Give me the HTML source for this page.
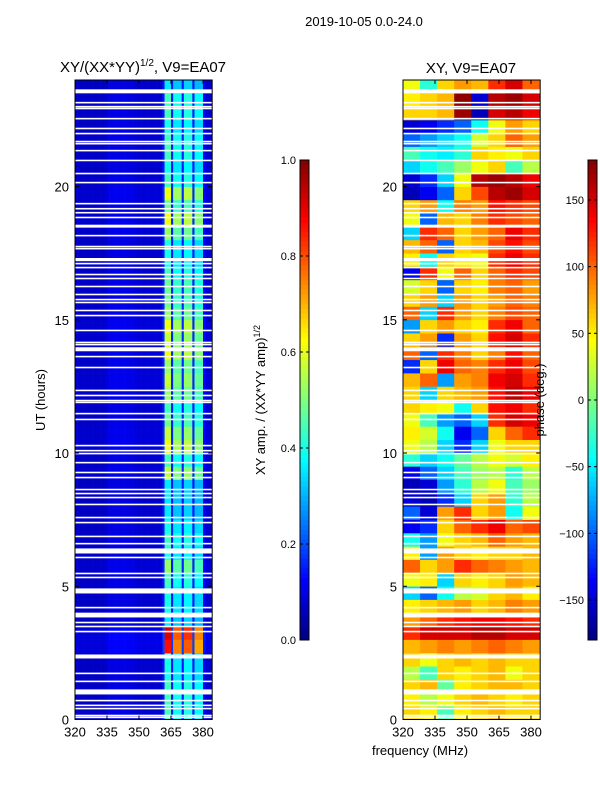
<!DOCTYPE html>
<html><head><meta charset="utf-8">
<style>
body{margin:0;background:#fff;width:600px;height:800px;overflow:hidden;font-family:"Liberation Sans",sans-serif;}
svg text{font-family:"Liberation Sans","DejaVu Sans",sans-serif;}
</style></head>
<body>
<svg id="fig" width="600" height="800" xmlns="http://www.w3.org/2000/svg">
<text x="364" y="26" font-size="13" text-anchor="middle">2019-10-05 0.0-24.0</text>
<text x="143" y="72" font-size="15" text-anchor="middle">XY/(XX*YY)<tspan font-size="10" dy="-6">1/2</tspan><tspan dy="6">, V9=EA07</tspan></text>
<text x="471" y="73" font-size="15" text-anchor="middle">XY, V9=EA07</text>
<text transform="translate(45,400) rotate(-90)" font-size="13" text-anchor="middle">UT (hours)</text>
<text x="420" y="755" font-size="13" text-anchor="middle">frequency (MHz)</text>
<text transform="translate(265,400) rotate(-90)" font-size="13" text-anchor="middle">XY amp. / (XX*YY amp)<tspan font-size="9" dy="-5">1/2</tspan></text>
<g id="ampPlot"></g>
<g id="phPlot"></g>
<g id="axes"></g>
<text transform="translate(544,400) rotate(-90)" font-size="13" text-anchor="middle">phase (deg.)</text>
</svg>
<script>
const freqStart = 320, freqEnd = 384.3;
const ampColProfile = [0.07,0.07,0.07,0.07,0.07,0.07,0.07,0.07,0.07,0.07,0.07,0.07,0.07,0.07,0.08,0.09,0.1,0.1,0.1,0.1,0.1,0.1,0.1,0.1,0.1,0.1,0.09,0.09,0.09,0.08,0.08,0.08,0.08,0.08,0.08,0.08,0.08,0.08,0.08,0.08,0.08,0.15,1.0,1.0,1.0,0.15,0.85,0.85,0.85,0.85,0.15,0.9,0.9,0.9,0.9,0.15,0.8,0.8,0.8,0.8,0.12,0.08,0.08,0.08,0.08];
const ampRowGain = [0.4,0.4,0.4,0.35,0.35,0.9,0.95,0.3,0.35,0.35,0.4,0.5,0.35,0.4,0.35,0.3,0.3,0.3,0.55,0.4,0.6,0.55,0.45,0.4,0.5,0.55,0.5,0.6,0.55,0.6,0.5,0.45,0.45,0.4,0.35,0.35,0.5,0.6,0.45,0.6,0.4,0.35,0.4,0.4,0.35,0.4,0.4,0.3];
const phaseBlocks = [320,328,336,344,352,360,368,376,384.3];
const phaseRows = [
[60,50,-20,50,60,70,60,60],[50,20,40,60,70,60,50,60],[60,70,-10,50,60,70,70,60],[20,-20,60,50,60,70,40,60],
[60,40,60,70,60,70,60,60],[70,80,90,80,90,100,90,80],[120,150,150,150,160,160,150,150],[80,100,120,130,140,140,130,120],
[50,60,70,80,60,70,90,80],[-60,-100,-40,20,30,60,70,50],[40,50,-60,60,50,60,80,70],[100,60,80,120,100,90,80,70],
[50,-80,80,60,50,60,60,70],[-40,-80,40,60,70,100,80,70],[-140,-120,60,100,120,140,100,110],[-100,-150,80,120,60,80,-40,40],
[-150,-160,-120,-60,60,80,-30,20],[-160,-150,-80,-30,20,40,-20,10],[-140,-100,-60,-20,10,20,-30,20],[-30,-60,-40,-10,20,40,30,50],
[40,20,-60,-120,-60,40,60,60],[50,30,-40,-140,-100,60,100,120],[40,-20,-80,-100,-60,120,150,140],[60,50,40,-40,60,130,140,120],
[60,-60,60,70,80,130,160,140],[70,100,-80,80,90,140,150,120],[-120,60,140,100,90,120,140,110],[100,-100,120,90,60,90,130,100],
[60,80,-120,80,60,130,150,120],[-80,60,80,60,50,120,140,100],[100,-60,120,80,60,90,110,100],[60,80,-60,80,60,80,100,90],
[30,60,-100,60,50,90,100,80],[-140,120,40,100,60,100,120,110],[50,-40,60,50,40,120,140,120],[70,100,-100,60,70,110,130,110],
[-60,120,100,60,80,100,140,120],[40,-100,70,60,90,120,110,100],[60,80,-40,90,80,130,120,110],[-160,-140,-100,60,110,160,170,150],
[-150,-120,-60,40,160,170,160,140],[-60,-40,-20,10,40,60,-20,20],[-20,-40,-50,-30,60,50,40,60],[-100,-80,-60,-40,30,60,100,80],
[-150,-140,-120,-100,-40,40,80,60],[60,60,70,170,-160,150,160,140],[50,60,70,175,-150,160,170,150],[40,-30,60,80,70,120,150,100]];
const blankRows = [[23.5,23.65],[23.12,23.18],[22.97,23.03],[22.9,22.96],[22.52,22.58],[22.15,22.21],[21.96,22.02],[21.66,21.72],[21.58,21.64],[21.32,21.38],[20.95,21.01],[20.46,20.52],[20.12,20.18],[19.33,19.39],[19.14,19.2],[18.99,19.05],[18.81,18.87],[18.46,18.57],[18.13,18.19],[17.72,17.78],[17.64,17.7],[17.2,17.32],[17.08,17.14],[16.93,16.99],[16.67,16.73],[16.52,16.58],[16.22,16.28],[15.92,15.98],[15.73,15.79],[15.62,15.68],[15.32,15.38],[15.13,15.19],[14.57,14.63],[14.12,14.18],[14.04,14.1],[13.87,13.97],[13.82,13.88],[13.59,13.65],[13.18,13.24],[12.32,12.38],[12.13,12.19],[11.94,12.0],[11.87,11.93],[11.45,11.51],[11.23,11.29],[10.25,10.31],[10.06,10.12],[9.95,10.01],[9.61,9.67],[9.24,9.3],[9.05,9.11],[8.6,8.66],[8.45,8.51],[8.3,8.36],[8.04,8.1],[7.55,7.61],[7.36,7.42],[6.84,6.9],[6.57,6.63],[6.23,6.42],[6.05,6.11],[5.45,5.51],[5.3,5.36],[4.73,4.92],[4.17,4.23],[3.83,4.01],[3.61,3.67],[3.46,3.52],[3.27,3.33],[2.29,2.44],[1.7,1.76],[1.4,1.46],[0.94,1.13],[0.68,0.74],[0.5,0.56],[0.38,0.44],[0.12,0.18],[0.05,0.11]];
const yTicks = [0,5,10,15,20];
const xTicks = [320,335,350,365,380];
const ampCbTicks = [0.0,0.2,0.4,0.6,0.8,1.0];
const phCbTicks = [-150,-100,-50,0,50,100,150];

const NS="http://www.w3.org/2000/svg";
const Y0=719.5, Y24=80;
function yScale(h){return Y0-(Y0-Y24)*h/24;}
function xScaleL(f){return 75+(f-320)*(32/15);}
function xScaleR(f){return 403+(f-320)*(32/15);}
function jet(v){v=Math.max(0,Math.min(1,v));
 const r=Math.max(0,Math.min(1,1.5-Math.abs(4*v-3)));
 const g=Math.max(0,Math.min(1,1.5-Math.abs(4*v-2)));
 const b=Math.max(0,Math.min(1,1.5-Math.abs(4*v-1)));
 return `rgb(${Math.round(r*255)},${Math.round(g*255)},${Math.round(b*255)})`;}
function mk(tag,attrs,parent){const e=document.createElementNS(NS,tag);for(const k in attrs)e.setAttribute(k,attrs[k]);parent.appendChild(e);return e;}

const ampG=document.getElementById('ampPlot');
for(let r=0;r<ampRowGain.length;r++){
 for(let c=0;c<ampColProfile.length;c++){
  const f0=freqStart+c, f1=Math.min(freqEnd,f0+1);
  const p=ampColProfile[c];
  const v=p>0.5? 0.1+p*ampRowGain[r]*0.85 : p*(0.8+ampRowGain[r]*0.5);
  const el=mk('rect',{x:xScaleL(f0),y:yScale(r*0.5+0.5),width:xScaleL(f1)-xScaleL(f0)+0.3,height:yScale(r*0.5)-yScale(r*0.5+0.5)+0.3,fill:jet(v)},ampG);
  
  
 }
}
const phG=document.getElementById('phPlot');
for(let r=0;r<phaseRows.length;r++){
 for(let c=0;c<phaseRows[r].length;c++){
  const v=(phaseRows[r][c]+180)/360;
  const el=mk('rect',{x:xScaleR(phaseBlocks[c]),y:yScale(r*0.5+0.5),width:xScaleR(phaseBlocks[c+1])-xScaleR(phaseBlocks[c])+0.3,height:yScale(r*0.5)-yScale(r*0.5+0.5)+0.3,fill:jet(v)},phG);
  
  
 }
}
for(const [a,b] of blankRows){
 for(const sx of [xScaleL,xScaleR]){
  const el=mk('rect',{x:sx(320),y:yScale(b),width:sx(384.3)-sx(320),height:Math.max(1.5,yScale(a)-yScale(b)),fill:'#fff'},sx===xScaleL?ampG:phG);
  
  
 }
}
const ax=document.getElementById('axes');
for(const sx of [xScaleL,xScaleR]){
 const fr=mk('rect',{x:sx(320),y:Y24,width:sx(384.3)-sx(320),height:Y0-Y24,fill:'none',stroke:'#000','stroke-width':1},ax);
 
 
 for(const t of yTicks){
  const y=yScale(t);
  mk('line',{x1:sx(320),x2:sx(320)+4,y1:y,y2:y,stroke:'#000'},ax);
  mk('line',{x1:sx(384.3),x2:sx(384.3)-4,y1:y,y2:y,stroke:'#000'},ax);
  const tl=mk('text',{x:sx(320)-6,y:y+5,'font-size':13,'text-anchor':'end'},ax);tl.textContent=t;
  
  
 }
 for(const t of xTicks){
  const x=sx(t);
  mk('line',{x1:x,x2:x,y1:Y0,y2:Y0-4,stroke:'#000'},ax);
  mk('line',{x1:x,x2:x,y1:Y24,y2:Y24+4,stroke:'#000'},ax);
  const tl=mk('text',{x:x,y:Y0+17,'font-size':13,'text-anchor':'middle'},ax);tl.textContent=t;
  
  
 }
}
function colorbar(x,ticks,lo,hi,fmt,name){
 const g=mk('g',{},ax);
 
 
 const n=100;
 for(let i=0;i<n;i++){
  mk('rect',{x:x,y:640-(i+1)*4.8,width:9,height:5.1,fill:jet((i+0.5)/n)},g);
 }
 mk('rect',{x:x,y:160,width:9,height:480,fill:'none',stroke:'#000'},g);
 for(const t of ticks){
  const y=640-(t-lo)/(hi-lo)*480;
  mk('line',{x1:x,x2:x+3,y1:y,y2:y,stroke:'#000'},g);
  mk('line',{x1:x+9,x2:x+6,y1:y,y2:y,stroke:'#000'},g);
  const tl=mk('text',{x:x-4,y:y+4,'font-size':11,'text-anchor':'end'},g);tl.textContent=fmt(t);
  
  
 }
}
colorbar(300,ampCbTicks,0,1,t=>t.toFixed(1),'amp-colorbar');
colorbar(588,phCbTicks,-180,180,t=>t<0?'\u2212'+(-t):String(t),'phase-colorbar');
</script>
</body></html>
